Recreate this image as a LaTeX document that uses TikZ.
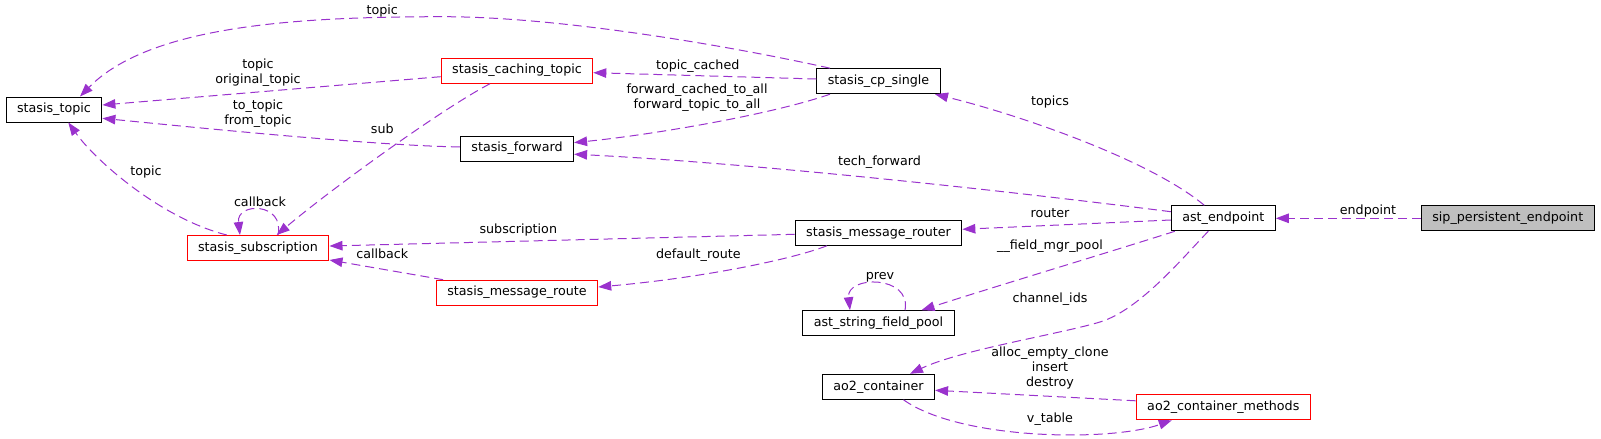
\documentclass[tikz,border=0pt]{standalone}
\usepackage{fontspec}
\setmainfont{DejaVu Sans}
\usepackage{xcolor}
\usepackage{tikz}
\usetikzlibrary{arrows.meta, positioning}

\definecolor{orchid}{RGB}{154,50,205}
\definecolor{grey75}{RGB}{191,191,191}

\begin{document}
\begin{tikzpicture}[
    x=1pt, y=-1pt,
    box/.style={draw, fill=white, line width=1pt, minimum height=25pt, inner xsep=11pt, inner ysep=0pt,
        text height=9.5pt, text depth=3pt, font=\fontsize{12.7}{14.7}\selectfont},
    lab/.style={inner sep=0pt, text height=9.5pt, text depth=3pt, font=\fontsize{12.7}{14.7}\selectfont},
    labs/.style={inner sep=0pt, align=center, font=\fontsize{12.7}{14.7}\selectfont},
    line/.style={-{Triangle[length=13pt, width=9.5pt]}, draw=orchid, line width=1pt, dash pattern=on 9pt off 5pt}
]
\useasboundingbox (0,0) rectangle (1601,439);

% Classes
\node[box] (topic) at (54,109.5) {stasis\_topic};
\node[box, draw=red] (subs) at (258,248) {stasis\_subscription};
\node[box, draw=red] (caching) at (517,70.7) {stasis\_caching\_topic};
\node[box, below=52pt of caching] (forward) {stasis\_forward};
\node[box, draw=red, below=118pt of forward] (route) {stasis\_message\_route};
\node[box] (cp) at (878.5,81.2) {stasis\_cp\_single};
\node[box, below=125.6pt of cp] (router) {stasis\_message\_router};
\node[box, below=64.4pt of router] (pool) {ast\_string\_field\_pool};
\node[box, below=37.6pt of pool] (ao2) {ao2\_container};
\node[box] (ast) at (1223.3,218.3) {ast\_endpoint};
\node[box, fill=grey75, right=145pt of ast] (sip) {sip\_persistent\_endpoint};
\node[box, draw=red, below=163pt of ast] (methods) {ao2\_container\_methods};

% Members of ast_endpoint
\draw[line] (sip) -- (ast);
\draw[line] ([xshift=-19pt]ast.north) .. controls (1150,160) and (1020,115) .. ([xshift=56.5pt]cp.south);
\draw[line] ([yshift=6.6pt]ast.west) .. controls (1000,190) and (750,163) .. ([yshift=-5.5pt]forward.east);
\draw[line] ([yshift=-1.7pt]ast.west) -- ([yshift=3.5pt]router.east);
\draw[line] ([xshift=4pt]ast.south west) .. controls (1100,255) and (1000,285) .. ([xshift=43pt]pool.north);
\draw[line] ([xshift=-15pt]ast.south) .. controls (1185,255) and (1140,310) .. (1100,322)
    .. controls (1060,334) and (960,350) .. ([xshift=31.5pt]ao2.north);

% Containers
\draw[line] ([yshift=6.5pt]methods.west) -- ([yshift=-3.5pt]ao2.east);
\draw[line] ([xshift=25pt]ao2.south) .. controls (960,440) and (1110,442) .. ([xshift=-51.5pt]methods.south);
\draw[line] ([xshift=26.5pt]pool.north) .. controls (912,275) and (846,275) .. ([xshift=-28.5pt]pool.north);

% Router
\draw[line] ([yshift=-1.5pt]router.west) -- ([yshift=2pt]subs.east);
\draw[line] ([xshift=-51.6pt]router.south) .. controls (790,260) and (700,278) .. ([yshift=5.7pt]route.east);
\draw[line] ([xshift=7.3pt]route.north west) -- ([yshift=1pt]subs.south east);
\draw[line] ([xshift=20pt]subs.north) .. controls (285,202) and (236,202) .. ([xshift=-18pt]subs.north);

% Topics
\draw[line] ([xshift=-27pt]caching.south) .. controls (440,110) and (330,190) .. ([xshift=18.7pt]subs.north);
\draw[line] ([yshift=-6pt]caching.west) -- ([yshift=4.5pt]topic.east);
\draw[line] ([yshift=1.8pt]forward.west) .. controls (380,146) and (200,128) .. ([yshift=-8.8pt]topic.east);
\draw[line] ([xshift=-48.5pt]cp.north) .. controls (730,46) and (560,16.7) .. (443,16.7)
    .. controls (300,16.7) and (150,25) .. ([xshift=26pt]topic.north);
\draw[line] ([yshift=2.2pt]cp.west) -- ([yshift=-2pt]caching.east);
\draw[line] ([xshift=-48.5pt]cp.south) .. controls (770,115) and (650,135) .. ([yshift=6.1pt]forward.east);
\draw[line] ([xshift=-31.3pt]subs.north) .. controls (160,218) and (95,160) .. ([xshift=14.3pt]topic.south);

% Labels
\node[lab] (labendpoint) at (1368,211) {endpoint};
\node[lab] (labtopics) at (1050,102.7) {topics};
\node[lab] (labtech) at (879.5,162.7) {tech\_forward};
\node[lab] (labrouter) at (1050,214.3) {router};
\node[lab] (labfield) at (1050,246.7) {\_\_field\_mgr\_pool};
\node[lab] (labchannel) at (1050,299.3) {channel\_ids};
\node[labs] (laballoc) at (1050,368) {alloc\_empty\_clone\\insert\\destroy};
\node[lab] (labvtable) at (1050,419.3) {v\_table};
\node[lab] (labprev) at (880,276) {prev};
\node[lab] (labsubscription) at (518.3,230.7) {subscription};
\node[lab] (labdefault) at (698.3,255.7) {default\_route};
\node[lab] (labcallback) at (382.3,255) {callback};
\node[lab] (labselfcallback) at (260,203.3) {callback};
\node[lab] (labsub) at (382.3,130.7) {sub};
\node[labs] (laboriginal) at (258,72.5) {topic\\original\_topic};
\node[labs] (labfrom) at (258,114) {to\_topic\\from\_topic};
\node[lab] (labtopic) at (382.3,11.7) {topic};
\node[lab] (labcached) at (697.7,66.7) {topic\_cached};
\node[labs] (labforward) at (697,97.5) {forward\_cached\_to\_all\\forward\_topic\_to\_all};
\node[lab] (labsubtopic) at (146,172.7) {topic};

\end{tikzpicture}
\end{document}
